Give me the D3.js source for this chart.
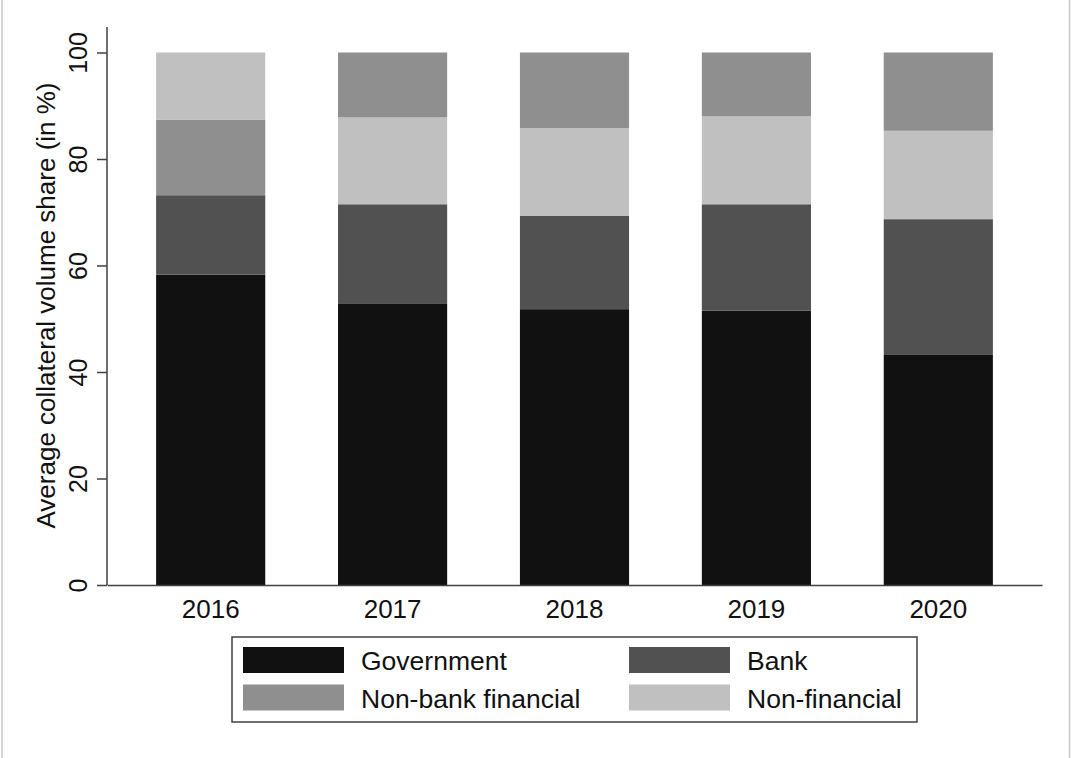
<!DOCTYPE html>
<html>
<head>
<meta charset="utf-8">
<script src="https://cdn.jsdelivr.net/npm/d3@7"></script>
<style>
  html, body { margin: 0; padding: 0; background: #fff; }
  text { font-family: "Liberation Sans", Arial, sans-serif; fill: #111; }
</style>
</head>
<body>
<svg id="chart" width="1071" height="758"></svg>
<script>
// data (shares in %)
const years = ['2016', '2017', '2018', '2019', '2020'];
const government = [58.3, 52.9, 51.8, 51.5, 43.2];
const bank = [14.9, 18.6, 17.5, 20.0, 25.5];
const nonBankFinancial = [14.2, 12.2, 14.2, 12.0, 14.7];
const nonFinancial = [12.6, 16.3, 16.5, 16.5, 16.6];
const yTicks = [0, 20, 40, 60, 80, 100];
// stacking order differs in the first year of the original
const stackOrder = [
  ['Government', 'Bank', 'Non-bank financial', 'Non-financial'],
  ['Government', 'Bank', 'Non-financial', 'Non-bank financial'],
  ['Government', 'Bank', 'Non-financial', 'Non-bank financial'],
  ['Government', 'Bank', 'Non-financial', 'Non-bank financial'],
  ['Government', 'Bank', 'Non-financial', 'Non-bank financial']
];

const series = {
  'Government': government,
  'Bank': bank,
  'Non-bank financial': nonBankFinancial,
  'Non-financial': nonFinancial
};
const colors = {
  'Government': '#111111',
  'Bank': '#515151',
  'Non-bank financial': '#8f8f8f',
  'Non-financial': '#c0c0c0'
};

const svg = d3.select('#chart');
const plotLeft = 107, plotRight = 1042, plotTop = 52.5, plotBottom = 585;

const x = d3.scaleBand().domain(years).range([plotLeft, plotRight])
  .paddingInner(0.4).paddingOuter(0.27);
const y = d3.scaleLinear().domain([0, 100]).range([plotBottom, plotTop]);

// frame lines at the image edges
svg.append('line').attr('x1', 2).attr('x2', 2).attr('y1', 0).attr('y2', 758)
  .attr('stroke', '#c8c8c8').attr('stroke-width', 1.5);
svg.append('line').attr('x1', 1069.5).attr('x2', 1069.5).attr('y1', 0).attr('y2', 758)
  .attr('stroke', '#c8c8c8').attr('stroke-width', 1.5);

// stacked bars
const segs = [];
years.forEach((yr, i) => {
  let base = 0;
  stackOrder[i].forEach(key => {
    const v = series[key][i];
    segs.push({ year: yr, key, y0: base, y1: base + v });
    base += v;
  });
});

svg.append('g').selectAll('rect')
  .data(segs)
  .enter()
  .append('rect')
  .attr('x', d => x(d.year))
  .attr('width', x.bandwidth())
  .attr('y', d => y(d.y1))
  .attr('height', d => y(d.y0) - y(d.y1))
  .attr('fill', d => colors[d.key]);

// y axis
const yAxis = svg.append('g').attr('transform', `translate(${plotLeft},0)`)
  .call(d3.axisLeft(y).tickValues(yTicks).tickSize(10).tickSizeOuter(0).tickFormat(d3.format('d')));
yAxis.select('.domain').attr('stroke', '#404040').attr('stroke-width', 1.5)
  .attr('d', `M0,${plotBottom}V27`);
yAxis.selectAll('.tick line').attr('stroke', '#404040').attr('stroke-width', 1.5);
yAxis.selectAll('.tick text')
  .attr('x', null).attr('dy', null)
  .attr('transform', 'translate(-20,0) rotate(-90)')
  .attr('text-anchor', 'middle')
  .style('font-size', '25px')
  .style('font-family', '"Liberation Sans", Arial, sans-serif')
  .attr('fill', '#111');

// x axis
const xAxis = svg.append('g').attr('transform', `translate(0,${plotBottom})`)
  .call(d3.axisBottom(x).tickSize(0).tickSizeOuter(0));
xAxis.select('.domain').attr('stroke', '#404040').attr('stroke-width', 1.5);
xAxis.selectAll('.tick text')
  .attr('y', 33).attr('dy', null)
  .style('font-size', '26px')
  .style('font-family', '"Liberation Sans", Arial, sans-serif')
  .attr('fill', '#111');

// y axis title
svg.append('text')
  .attr('transform', 'translate(55,305.5) rotate(-90)')
  .attr('text-anchor', 'middle')
  .style('font-size', '26px')
  .text('Average collateral volume share (in %)');

// legend
const legendKeys = ['Government', 'Bank', 'Non-bank financial', 'Non-financial'];
const legend = svg.append('g');
legend.append('rect')
  .attr('x', 232).attr('y', 637).attr('width', 685).attr('height', 85)
  .attr('fill', '#fff').attr('stroke', '#404040').attr('stroke-width', 1.5);
const colX = [243, 629];
const rowY = [647, 684.5];
legendKeys.forEach((k, i) => {
  const cx = colX[i % 2], ry = rowY[Math.floor(i / 2)];
  legend.append('rect')
    .attr('x', cx).attr('y', ry).attr('width', 101).attr('height', 26)
    .attr('fill', colors[k]);
  legend.append('text')
    .attr('x', cx + 118).attr('y', ry + 23)
    .style('font-size', '26.5px')
    .text(k);
});
</script>
</body>
</html>
